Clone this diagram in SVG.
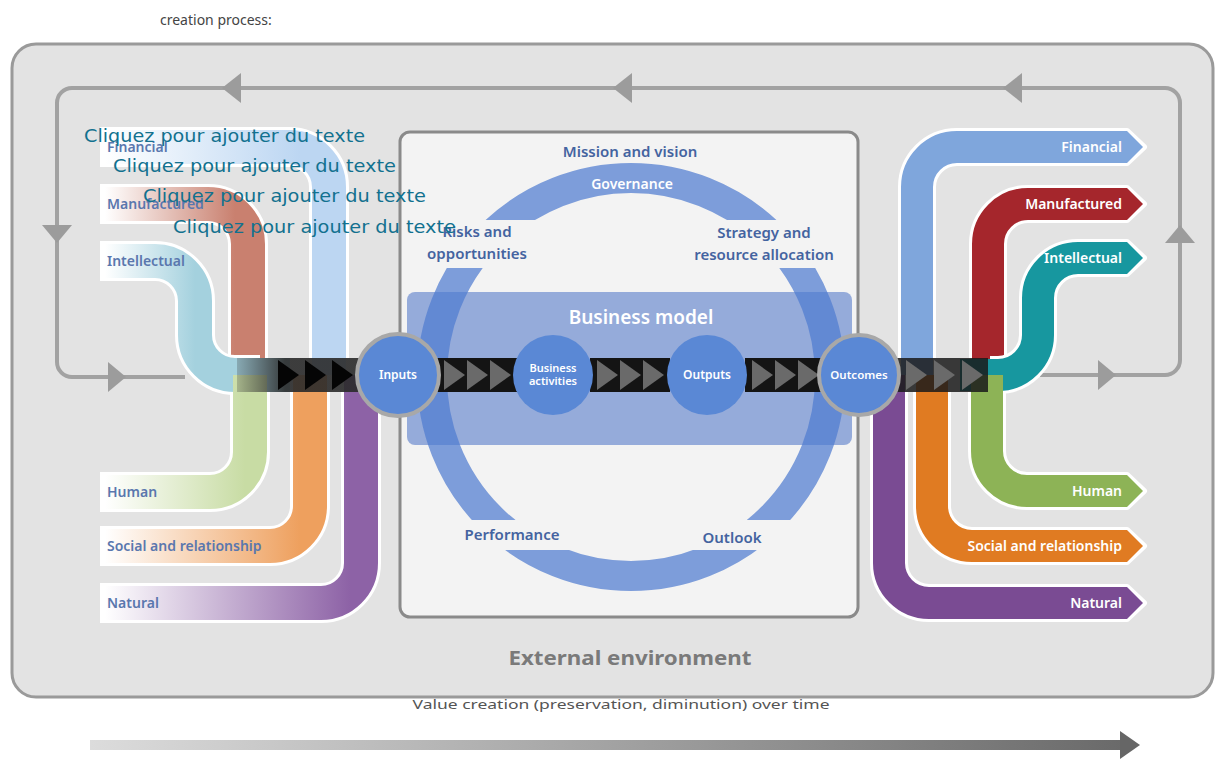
<svg xmlns="http://www.w3.org/2000/svg" width="1216" height="762" viewBox="0 0 1216 762">
<defs>
<style>
.sans{font-family:"Noto Sans","Liberation Sans",sans-serif}
.ll{font-family:"Noto Sans","Liberation Sans",sans-serif;font-size:14px;font-weight:600;fill:#5a77ae}
.rl{font-family:"Noto Sans","Liberation Sans",sans-serif;font-size:14px;font-weight:600;fill:#ffffff;text-anchor:end}
.ct{font-family:"Noto Sans","Liberation Sans",sans-serif;font-size:15px;font-weight:600;fill:#4463a0;text-anchor:middle}
.wt{font-family:"Noto Sans","Liberation Sans",sans-serif;fill:#ffffff;text-anchor:middle;font-weight:600}
.ph{font-family:"DejaVu Sans","Noto Sans",sans-serif;font-size:17px;fill:#12718f}
.loop{fill:none;stroke:#a2a2a2;stroke-width:4}
.ah{fill:#9c9c9c}
.wo{fill:none;stroke:#ffffff;stroke-width:40}
.rb{fill:none;stroke-width:34}
.rwo{fill:none;stroke:#ffffff;stroke-width:38}
.rrb{fill:none;stroke-width:32}
.band{fill:#141414}
.chg{fill:#6a6a6a}
.chb{fill:#050505}
</style>
<linearGradient id="gFin" gradientUnits="userSpaceOnUse" x1="105" y1="0" x2="300" y2="0"><stop offset="0" stop-color="#ffffff"/><stop offset="1" stop-color="#bcd6f2"/></linearGradient>
<linearGradient id="gMan" gradientUnits="userSpaceOnUse" x1="105" y1="0" x2="235" y2="0"><stop offset="0" stop-color="#ffffff"/><stop offset="1" stop-color="#c9806f"/></linearGradient>
<linearGradient id="gInt" gradientUnits="userSpaceOnUse" x1="105" y1="0" x2="195" y2="0"><stop offset="0" stop-color="#ffffff"/><stop offset="1" stop-color="#a4d1de"/></linearGradient>
<linearGradient id="gHum" gradientUnits="userSpaceOnUse" x1="105" y1="0" x2="245" y2="0"><stop offset="0" stop-color="#ffffff"/><stop offset="1" stop-color="#c8dca4"/></linearGradient>
<linearGradient id="gSoc" gradientUnits="userSpaceOnUse" x1="105" y1="0" x2="300" y2="0"><stop offset="0" stop-color="#ffffff"/><stop offset="1" stop-color="#eea05e"/></linearGradient>
<linearGradient id="gNat" gradientUnits="userSpaceOnUse" x1="105" y1="0" x2="350" y2="0"><stop offset="0" stop-color="#ffffff"/><stop offset="1" stop-color="#8d62a6"/></linearGradient>
<linearGradient id="gLeftBand" gradientUnits="userSpaceOnUse" x1="237" y1="0" x2="285" y2="0"><stop offset="0" stop-color="#333" stop-opacity="0.25"/><stop offset="1" stop-color="#2a2a2a" stop-opacity="0.9"/></linearGradient>
<linearGradient id="gTime" x1="0" y1="0" x2="1" y2="0"><stop offset="0" stop-color="#dcdcdc"/><stop offset="1" stop-color="#6a6a6a"/></linearGradient>
<clipPath id="ringClip">
<rect x="380" y="140" width="500" height="80"/>
<rect x="380" y="268" width="500" height="252"/>
<rect x="380" y="550" width="500" height="60"/>
</clipPath>
<path id="chev" d="M0 -15 L21 0 L0 15 Z"/>
</defs>

<rect width="1216" height="762" fill="#ffffff"/>
<text class="sans" x="160" y="25" font-size="14" fill="#444">creation process:</text>

<g id="external-environment">
<rect x="12" y="44" width="1201" height="653" rx="24" fill="#e3e3e3" stroke="#9a9a9a" stroke-width="3"/>
<text class="sans" x="630" y="665" font-size="20" font-weight="700" fill="#7a7a7a" text-anchor="middle" textLength="243" lengthAdjust="spacingAndGlyphs">External environment</text>
</g>

<g id="connectors">
<path class="loop" d="M185 377 H72 A15 15 0 0 1 57 362 V103 A15 15 0 0 1 72 88 H1165 A15 15 0 0 1 1180 103 V360 A15 15 0 0 1 1165 375 H1040"/>
<polygon class="ah" points="222,88 241,73 241,103"/>
<polygon class="ah" points="613,88 632,73 632,103"/>
<polygon class="ah" points="1003,88 1022,73 1022,103"/>
<polygon class="ah" points="42,225 72,225 57,243"/>
<polygon class="ah" points="108,362 108,392 126,377"/>
<polygon class="ah" points="1165,243 1195,243 1180,225"/>
<polygon class="ah" points="1098,360 1098,390 1116,375"/>
</g>

<g id="center-box">
<rect x="400" y="132" width="458" height="485" rx="10" fill="#f3f3f3" stroke="#8a8a8a" stroke-width="3"/>
</g>

<g id="n-business-model">
<rect x="407" y="292" width="445" height="153" rx="8" fill="#6c8bcf" fill-opacity="0.7"/>
<text class="wt" x="641" y="324" font-size="19" font-weight="500">Business model</text>
</g>

<g id="n-ring">
<circle cx="631" cy="377" r="199" fill="none" stroke="#4f7cd0" stroke-opacity="0.72" stroke-width="30" clip-path="url(#ringClip)"/>
<text class="wt" x="632" y="189" font-size="14" font-weight="500">Governance</text>
</g>

<g id="ring-labels">
<text class="ct" x="630" y="157">Mission and vision</text>
<text class="ct" x="477" y="237">Risks and</text>
<text class="ct" x="477" y="259">opportunities</text>
<text class="ct" x="764" y="238">Strategy and</text>
<text class="ct" x="764" y="260">resource allocation</text>
<text class="ct" x="512" y="540">Performance</text>
<text class="ct" x="732" y="543">Outlook</text>
</g>

<g id="input-capitals">
<g id="in-financial">
<path class="wo" d="M100 147 H289 A40 40 0 0 1 329 187 V358"/>
<path class="rb" stroke="url(#gFin)" d="M100 147 H289 A40 40 0 0 1 329 187 V375"/>
<text class="ll" x="107" y="152">Financial</text>
</g>
<g id="in-manufactured">
<path class="wo" d="M100 204 H208 A40 40 0 0 1 248 244 V358"/>
<path class="rb" stroke="url(#gMan)" d="M100 204 H208 A40 40 0 0 1 248 244 V375"/>
<text class="ll" x="107" y="209">Manufactured</text>
</g>
<g id="in-intellectual">
<path class="wo" d="M100 261 H155 A40 40 0 0 1 195 301 V335 A40 40 0 0 0 235 375 H260"/>
<path class="rb" stroke="url(#gInt)" d="M100 261 H155 A40 40 0 0 1 195 301 V335 A40 40 0 0 0 235 375 H290"/>
<text class="ll" x="107" y="266">Intellectual</text>
</g>
<g id="in-human">
<path class="wo" d="M100 492 H210 A40 40 0 0 0 250 452 V392"/>
<path class="rb" stroke="url(#gHum)" d="M100 492 H210 A40 40 0 0 0 250 452 V375"/>
<text class="ll" x="107" y="497">Human</text>
</g>
<g id="in-social">
<path class="wo" d="M100 546 H270 A40 40 0 0 0 310 506 V392"/>
<path class="rb" stroke="url(#gSoc)" d="M100 546 H270 A40 40 0 0 0 310 506 V375"/>
<text class="ll" x="107" y="551">Social and relationship</text>
</g>
<g id="in-natural">
<path class="wo" d="M100 603 H321 A40 40 0 0 0 361 563 V392"/>
<path class="rb" stroke="url(#gNat)" d="M100 603 H321 A40 40 0 0 0 361 563 V375"/>
<text class="ll" x="107" y="608">Natural</text>
</g>
</g>

<g id="output-capitals">
<g id="out-financial">
<path class="rwo" d="M917 358 V187 A40 40 0 0 1 957 147 H1125"/>
<polygon points="1122,131 1127,131 1144,147 1127,163 1122,163" fill="#fff" stroke="#fff" stroke-width="6" stroke-linejoin="round"/>
<path class="rrb" stroke="#7fa6dc" d="M917 375 V187 A40 40 0 0 1 957 147 H1125"/>
<polygon points="1122,131 1127,131 1143,147 1127,163 1122,163" fill="#7fa6dc"/>
<text class="rl" x="1122" y="152">Financial</text>
</g>
<g id="out-manufactured">
<path class="rwo" d="M988 358 V244 A40 40 0 0 1 1028 204 H1125"/>
<polygon points="1122,188 1127,188 1144,204 1127,220 1122,220" fill="#fff" stroke="#fff" stroke-width="6" stroke-linejoin="round"/>
<path class="rrb" stroke="#a5262c" d="M988 375 V244 A40 40 0 0 1 1028 204 H1125"/>
<polygon points="1122,188 1127,188 1143,204 1127,220 1122,220" fill="#a5262c"/>
<text class="rl" x="1122" y="209">Manufactured</text>
</g>
<g id="out-intellectual">
<path class="rwo" d="M990 375 H998 A40 40 0 0 0 1038 335 V298 A40 40 0 0 1 1078 258 H1125"/>
<polygon points="1122,242 1127,242 1144,258 1127,274 1122,274" fill="#fff" stroke="#fff" stroke-width="6" stroke-linejoin="round"/>
<path class="rrb" stroke="#17979f" d="M960 375 H998 A40 40 0 0 0 1038 335 V298 A40 40 0 0 1 1078 258 H1125"/>
<polygon points="1122,242 1127,242 1143,258 1127,274 1122,274" fill="#17979f"/>
<text class="rl" x="1122" y="263">Intellectual</text>
</g>
<g id="out-human">
<path class="rwo" d="M987 392 V451 A40 40 0 0 0 1027 491 H1125"/>
<polygon points="1122,475 1127,475 1144,491 1127,507 1122,507" fill="#fff" stroke="#fff" stroke-width="6" stroke-linejoin="round"/>
<path class="rrb" stroke="#8db356" d="M987 375 V451 A40 40 0 0 0 1027 491 H1125"/>
<polygon points="1122,475 1127,475 1143,491 1127,507 1122,507" fill="#8db356"/>
<text class="rl" x="1122" y="496">Human</text>
</g>
<g id="out-social">
<path class="rwo" d="M932 392 V506 A40 40 0 0 0 972 546 H1125"/>
<polygon points="1122,530 1127,530 1144,546 1127,562 1122,562" fill="#fff" stroke="#fff" stroke-width="6" stroke-linejoin="round"/>
<path class="rrb" stroke="#e07b22" d="M932 375 V506 A40 40 0 0 0 972 546 H1125"/>
<polygon points="1122,530 1127,530 1143,546 1127,562 1122,562" fill="#e07b22"/>
<text class="rl" x="1122" y="551">Social and relationship</text>
</g>
<g id="out-natural">
<path class="rwo" d="M889 392 V563 A40 40 0 0 0 929 603 H1125"/>
<polygon points="1122,587 1127,587 1144,603 1127,619 1122,619" fill="#fff" stroke="#fff" stroke-width="6" stroke-linejoin="round"/>
<path class="rrb" stroke="#7a4b93" d="M889 375 V563 A40 40 0 0 0 929 603 H1125"/>
<polygon points="1122,587 1127,587 1143,603 1127,619 1122,619" fill="#7a4b93"/>
<text class="rl" x="1122" y="608">Natural</text>
</g>
</g>

<g id="flow-bands">
<rect x="237" y="358" width="126" height="34" fill="url(#gLeftBand)"/>
<use href="#chev" class="chb" x="278" y="375"/>
<use href="#chev" class="chb" x="305" y="375"/>
<use href="#chev" class="chb" x="332" y="375"/>
<rect class="band" x="436" y="358" width="82" height="34"/>
<use href="#chev" class="chg" x="444" y="375"/>
<use href="#chev" class="chg" x="467" y="375"/>
<use href="#chev" class="chg" x="490" y="375"/>
<rect class="band" x="590" y="358" width="80" height="34"/>
<use href="#chev" class="chg" x="597" y="375"/>
<use href="#chev" class="chg" x="620" y="375"/>
<use href="#chev" class="chg" x="643" y="375"/>
<rect class="band" x="745" y="358" width="80" height="34"/>
<use href="#chev" class="chg" x="752" y="375"/>
<use href="#chev" class="chg" x="775" y="375"/>
<use href="#chev" class="chg" x="798" y="375"/>
<rect x="896" y="358" width="92" height="34" fill="#1a1a1a" fill-opacity="0.85"/>
<use href="#chev" class="chg" x="906" y="375"/>
<use href="#chev" class="chg" x="934" y="375"/>
<use href="#chev" class="chg" x="962" y="375"/>
</g>

<g id="n-inputs">
<circle cx="398" cy="375" r="41" fill="#5a88d5" stroke="#a8a8a8" stroke-width="4"/>
<text class="wt" x="398" y="379" font-size="12" font-weight="500">Inputs</text>
</g>
<g id="n-business-activities">
<circle cx="553" cy="375" r="40" fill="#5a88d5"/>
<text class="wt" x="553" y="372" font-size="11" font-weight="500">Business</text>
<text class="wt" x="553" y="385" font-size="11" font-weight="500">activities</text>
</g>
<g id="n-outputs">
<circle cx="707" cy="375" r="40" fill="#5a88d5"/>
<text class="wt" x="707" y="379" font-size="12" font-weight="500">Outputs</text>
</g>
<g id="n-outcomes">
<circle cx="859" cy="375" r="40" fill="#5a88d5" stroke="#a8a8a8" stroke-width="4"/>
<text class="wt" x="859" y="379" font-size="11.5" font-weight="500">Outcomes</text>
</g>

<g id="time-arrow">
<text class="sans" x="621" y="709" font-size="13" fill="#555" text-anchor="middle" textLength="417" lengthAdjust="spacingAndGlyphs">Value creation (preservation, diminution) over time</text>
<rect x="90" y="740" width="1032" height="10" fill="url(#gTime)"/>
<polygon points="1120,731 1140,745 1120,759" fill="#666"/>
</g>

<g id="placeholders">
<text class="ph" x="84" y="142" textLength="281" lengthAdjust="spacingAndGlyphs">Cliquez pour ajouter du texte</text>
<text class="ph" x="113" y="172" textLength="283" lengthAdjust="spacingAndGlyphs">Cliquez pour ajouter du texte</text>
<text class="ph" x="143" y="202" textLength="283" lengthAdjust="spacingAndGlyphs">Cliquez pour ajouter du texte</text>
<text class="ph" x="173" y="233" textLength="283" lengthAdjust="spacingAndGlyphs">Cliquez pour ajouter du texte</text>
</g>
</svg>
